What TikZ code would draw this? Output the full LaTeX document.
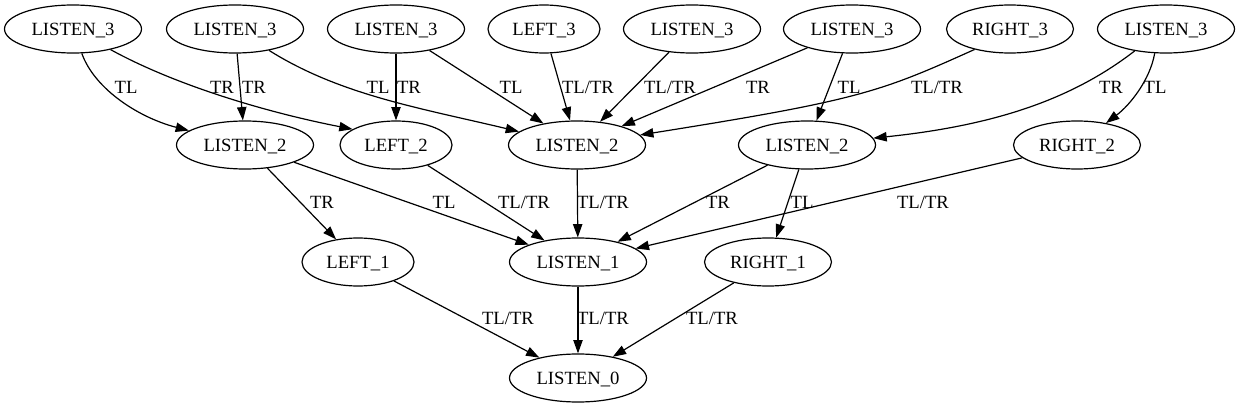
\documentclass[tikz,border=0pt]{standalone}
\usepackage{fontspec}
\setmainfont{Liberation Serif}
\usetikzlibrary{shapes.geometric,arrows.meta}
\begin{document}
\begin{tikzpicture}[x=0.75pt,y=-0.75pt,
  st/.style={ellipse,draw,line width=0.9pt,inner sep=0pt,minimum height=36pt,
    font=\fontsize{14}{16}\selectfont,text depth=0pt},
  ls/.style={st,minimum width=102.75pt},
  lf/.style={st,minimum width=84pt},
  rt/.style={st,minimum width=95.25pt},
  arr/.style={draw,line width=0.9pt,-{Triangle[length=10pt,width=7pt]}},
  lbl/.style={font=\fontsize{14}{16}\selectfont,anchor=base,inner sep=0pt}]
\useasboundingbox (0,0) rectangle (1240,407);
% top row
\node[ls] (a1) at (73,29) {LISTEN\_3};
\node[ls] (a2) at (235,29) {LISTEN\_3};
\node[ls] (a3) at (396,29) {LISTEN\_3};
\node[lf] (a4) at (544,29) {LEFT\_3};
\node[ls] (a5) at (692,29) {LISTEN\_3};
\node[ls] (a6) at (852,29) {LISTEN\_3};
\node[rt] (a7) at (1010,29) {RIGHT\_3};
\node[ls] (a8) at (1166,29) {LISTEN\_3};
% second row
\node[ls] (b1) at (245,145) {LISTEN\_2};
\node[lf] (b2) at (396,145) {LEFT\_2};
\node[ls] (b3) at (577,145) {LISTEN\_2};
\node[ls] (b4) at (807,145) {LISTEN\_2};
\node[rt] (b5) at (1077,145) {RIGHT\_2};
% third row
\node[lf] (c1) at (358,262) {LEFT\_1};
\node[ls] (c2) at (578,262) {LISTEN\_1};
\node[rt] (c3) at (768,262) {RIGHT\_1};
% bottom
\node[ls] (d) at (578,378) {LISTEN\_0};
% edges row 1 -> 2
\draw[arr] (a1) .. controls (95,90) and (140,118) .. (b1);
\draw[arr] (a1) .. controls (175,85) and (265,112) .. (b2.160);
\draw[arr] (a2) -- (b1);
\draw[arr] (a2) .. controls (340,95) and (420,108) .. (b3.167);
\draw[arr] (a3) -- (b2);
\draw[arr] (a3) -- (b3);
\draw[arr] (a4) -- (b3);
\draw[arr] (a5) -- (b3);
\draw[arr] (a6) -- (b3);
\draw[arr] (a6) -- (b4);
\draw[arr] (a7.210) .. controls (880,92) and (860,100) .. (b3);
\draw[arr] (a8.215) .. controls (1075,97) and (1000,125) .. (b4);
\draw[arr] (a8.245) .. controls (1150,80) and (1130,105) .. (b5);
% edges row 2 -> 3
\draw[arr] (b1) -- (c1);
\draw[arr] (b1) -- (c2);
\draw[arr] (b2) -- (c2);
\draw[arr] (b3) -- (c2);
\draw[arr] (b4) -- (c2);
\draw[arr] (b4) -- (c3);
\draw[arr] (b5) -- (c2);
% edges row 3 -> 4
\draw[arr] (c1) -- (d);
\draw[arr] (c2) -- (d);
\draw[arr] (c3) -- (d);
% labels
\node[lbl] (l1) at (126,93) {TL};
\node[lbl] (l2) at (222,93) {TR};
\node[lbl] (l3) at (254,93) {TR};
\node[lbl] (l4) at (378,93) {TL};
\node[lbl] (l5) at (409,93) {TR};
\node[lbl] (l6) at (511,93) {TL};
\node[lbl] (l7) at (588,93) {TL/TR};
\node[lbl] (l8) at (670,93) {TL/TR};
\node[lbl] (l9) at (758,93) {TR};
\node[lbl] (l10) at (849,93) {TL};
\node[lbl] (l11) at (937,93) {TL/TR};
\node[lbl] (l12) at (1111,93) {TR};
\node[lbl] (l13) at (1155,93) {TL};
\node[lbl] (m1) at (322,208) {TR};
\node[lbl] (m2) at (444,208) {TL};
\node[lbl] (m3) at (524,208) {TL/TR};
\node[lbl] (m4) at (603,208) {TL/TR};
\node[lbl] (m5) at (718,208) {TR};
\node[lbl] (m6) at (802,208) {TL};
\node[lbl] (m7) at (923,208) {TL/TR};
\node[lbl] (n1) at (508,324) {TL/TR};
\node[lbl] (n2) at (603,324) {TL/TR};
\node[lbl] (n3) at (712,324) {TL/TR};
\end{tikzpicture}
\end{document}
